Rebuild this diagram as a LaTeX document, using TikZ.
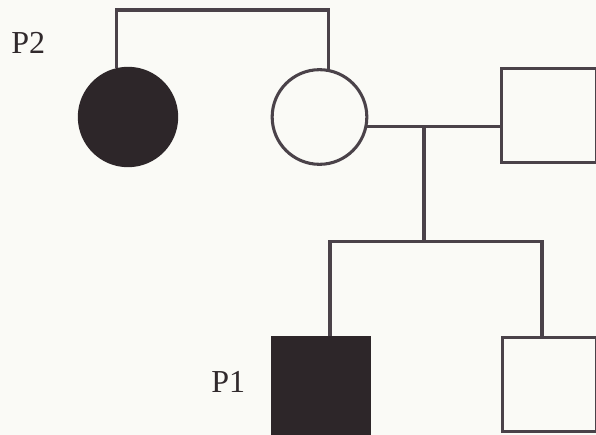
\documentclass[tikz,border=0pt]{standalone}
\usepackage{fontspec}
\setmainfont{Liberation Serif}
\usepackage{xcolor}
\usepackage{tikz}
\usetikzlibrary{calc}

\definecolor{inkline}{HTML}{4A4249}
\definecolor{inkfill}{HTML}{2D2629}
\definecolor{paper}{HTML}{FAFAF6}

\begin{document}
\begin{tikzpicture}[
  x=0.75pt,
  y=-0.75pt,
  font=\fontsize{24}{28}\selectfont,
  line/.style={draw=inkline, line width=2.3pt},
  female/.style={circle, line, inner sep=0pt, minimum size=72pt},
  male/.style={rectangle, line, inner sep=0pt, minimum size=71pt},
  affected/.style={fill=inkfill, draw=inkfill},
  tag/.style={text=inkfill!90!inkline, anchor=base west, inner sep=0pt}
]

\fill[paper] (0,0) rectangle (596,435);
\useasboundingbox (0,0) rectangle (596,435);
\clip (0,0) rectangle (596,435);

% parents' generation
\node[female, affected, minimum size=73pt] (p2) at (128,117) {};
\node[female, minimum size=71pt] (mother) at (319.5,117) {};
\node[male] (father) at (549,115.5) {};

% children
\node[male, affected, minimum size=72pt] (p1) at (321,386) {};
\node[male] (sib) at (549.5,384.5) {};

\node[tag] (p2lab) at (11,54) {P2};
\node[tag] (p1lab) at (211,392) {P1};

\coordinate (sisters) at (223,10);
\coordinate (mate) at (424,126);

\draw[line] (p2.103) |- (sisters) -| (mother.79);
\draw[line] (mother.-11) -- (mother.-11 -| father.west);
\draw[line] (mate) -- ++(0,116);
\draw[line] ($(p1.north)+(9,0)$) -- ++(0,-95) -| ($(sib.north)+(-7.5,0)$);

\end{tikzpicture}
\end{document}
